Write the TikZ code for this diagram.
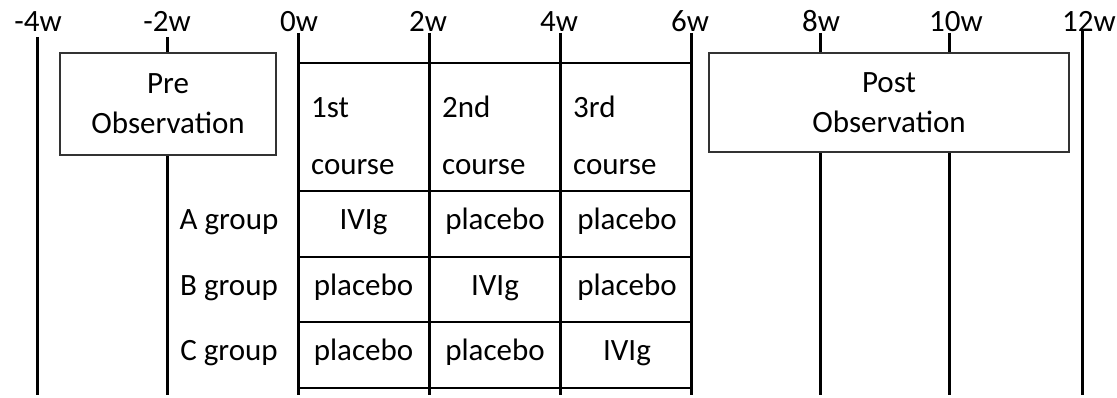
\documentclass[tikz,border=0pt]{standalone}
\usepackage{fontspec}
\setmainfont{Carlito}
\begin{document}
\begin{tikzpicture}[x=1pt,y=-1pt,
  font=\fontsize{31}{40}\selectfont,
  tline/.style={line width=3pt},
  hline/.style={line width=2pt},
  obsbox/.style={draw=black!80, line width=2pt, fill=white, inner sep=0pt, align=center},
  lab/.style={anchor=base, inner sep=0pt},
  hdr/.style={anchor=base west, inner sep=0pt}]
\useasboundingbox (0,0) rectangle (1117,398);
% timeline tick labels
\node[lab] (tm4) at (38,32) {-4w};
\node[lab] (tm2) at (167,32) {-2w};
\node[lab] (t0) at (299,32) {0w};
\node[lab] (t2) at (428,32) {2w};
\node[lab] (t4) at (559,32) {4w};
\node[lab] (t6) at (690,32) {6w};
\node[lab] (t8) at (821,32) {8w};
\node[lab] (t10) at (956,32) {10w};
\node[lab] (t12) at (1089,32) {12w};
% vertical timeline lines
\foreach \n/\x/\t in {m4/37/37, m2/167/37, 0/298/33, 2/429/33, 4/560/33, 6/691/33, 8/820/33, 10/949/33, 12/1082/31}{
  \coordinate (top\n) at (\x,\t);
  \coordinate (bot\n) at (\x,395);
  \draw[tline] (top\n) -- (bot\n);
}
% observation boxes
\node[obsbox, minimum width=216pt, minimum height=102pt] (pre) at (168,104) {Pre\\Observation};
\node[obsbox, minimum width=360pt, minimum height=99pt] (post) at (889,102.5) {Post\\Observation};
% table horizontal lines
\foreach \r/\y in {a/63, b/191.5, c/257, d/322, e/388}{
  \coordinate (L\r) at (298,\y);
  \coordinate (R\r) at (691,\y);
  \draw[hline] (L\r) -- (R\r);
}
% header
\node[hdr] (h1a) at (311,118) {1st};
\node[hdr] (h1b) at (311,175) {course};
\node[hdr] (h2a) at (442,118) {2nd};
\node[hdr] (h2b) at (442,175) {course};
\node[hdr] (h3a) at (573,118) {3rd};
\node[hdr] (h3b) at (573,175) {course};
% group labels
\node[lab] (ga) at (229,230) {A group};
\node[lab] (gb) at (229,295) {B group};
\node[lab] (gc) at (229,360) {C group};
% cells
\node[lab] (a1) at (363.5,230) {IVIg};
\node[lab] (a2) at (495,230) {placebo};
\node[lab] (a3) at (627,230) {placebo};
\node[lab] (b1) at (363.5,295) {placebo};
\node[lab] (b2) at (495,295) {IVIg};
\node[lab] (b3) at (627,295) {placebo};
\node[lab] (c1) at (363.5,360) {placebo};
\node[lab] (c2) at (495,360) {placebo};
\node[lab] (c3) at (627,360) {IVIg};
\end{tikzpicture}
\end{document}
